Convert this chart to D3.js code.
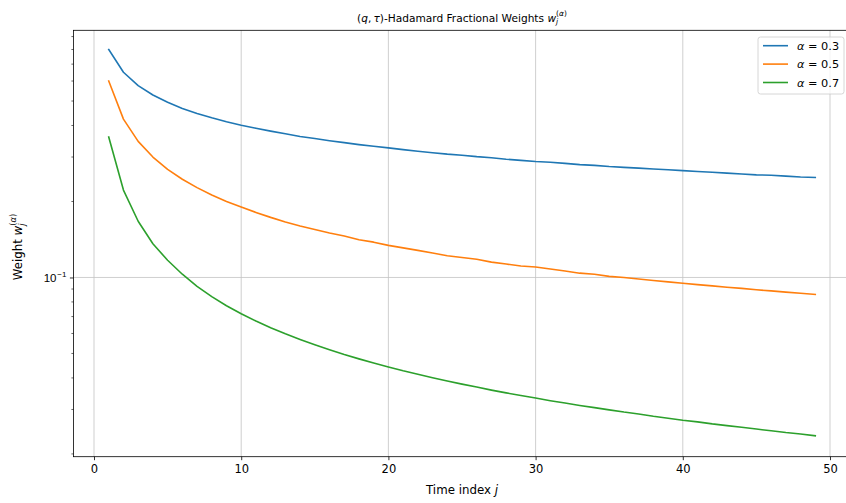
<!DOCTYPE html>
<html>
<head>
<meta charset="utf-8">
<script src="https://cdn.jsdelivr.net/npm/d3@7"></script>
<style>
body { margin: 0; background: #fff; }
svg { display: block; font-family: "DejaVu Sans", sans-serif; }
</style>
</head>
<body>
<svg></svg>
<script>
const w = 846;
const h = 503;
const plot = { left: 73.4, right: 850.6, top: 30.3, bottom: 456.7 };

// time index j = 1..49
const steps = d3.range(1, 50);
const alphas = ['0.3', '0.5', '0.7'];
const colors = ['#1f77b4', '#ff7f0e', '#2ca02c'];

// weights
const weights03 = [0.800, 0.650, 0.575, 0.528, 0.494, 0.467, 0.446, 0.429, 0.414, 0.401,
	0.390, 0.380, 0.371, 0.362, 0.355, 0.348, 0.342, 0.336, 0.331, 0.326,
	0.321, 0.316, 0.312, 0.308, 0.305, 0.301, 0.298, 0.294, 0.291, 0.288,
	0.286, 0.283, 0.280, 0.278, 0.275, 0.273, 0.271, 0.269, 0.267, 0.265,
	0.263, 0.261, 0.259, 0.257, 0.255, 0.254, 0.252, 0.250, 0.249];
const weights05 = [0.600, 0.424, 0.346, 0.300, 0.268, 0.245, 0.227, 0.212, 0.200, 0.190,
	0.181, 0.173, 0.166, 0.160, 0.155, 0.150, 0.146, 0.141, 0.138, 0.134,
	0.131, 0.128, 0.125, 0.122, 0.120, 0.118, 0.115, 0.113, 0.111, 0.110,
	0.108, 0.106, 0.104, 0.103, 0.101, 0.100, 0.0986, 0.0973, 0.0961, 0.0949,
	0.0937, 0.0926, 0.0915, 0.0905, 0.0894, 0.0885, 0.0875, 0.0866, 0.0857];
const weights07 = [0.360, 0.222, 0.167, 0.136, 0.117, 0.103, 0.0922, 0.0840, 0.0773, 0.0718,
	0.0672, 0.0632, 0.0598, 0.0568, 0.0541, 0.0517, 0.0495, 0.0476, 0.0458, 0.0442,
	0.0427, 0.0414, 0.0401, 0.0389, 0.0378, 0.0368, 0.0358, 0.0349, 0.0341, 0.0333,
	0.0325, 0.0318, 0.0311, 0.0305, 0.0299, 0.0293, 0.0288, 0.0282, 0.0277, 0.0272,
	0.0268, 0.0263, 0.0259, 0.0255, 0.0251, 0.0247, 0.0243, 0.0240, 0.0236];

const xTicks = [0, 10, 20, 30, 40, 50];
const yMajor = [0.1];
const yMinor = [0.02, 0.03, 0.04, 0.05, 0.06, 0.07, 0.08, 0.09,
	0.2, 0.3, 0.4, 0.5, 0.6, 0.7, 0.8, 0.9];

const series = [weights03, weights05, weights07];

let canvas = d3.select('svg').attr('width', w).attr('height', h);
canvas.append('rect').attr('width', w).attr('height', h).attr('fill', '#fff');

const xScale = d3.scaleLinear().domain([-1.4, 51.4]).range([plot.left, plot.right]);
const yScale = d3.scaleLog().domain([0.0195, 0.953]).range([plot.bottom, plot.top]);

// grid
const grid = canvas.append('g').attr('stroke', '#b0b0b0').attr('stroke-width', 0.8).attr('opacity', 0.75);
grid.selectAll('.gx').data(xTicks).enter().append('line')
	.attr('x1', (d) => xScale(d)).attr('x2', (d) => xScale(d))
	.attr('y1', plot.top).attr('y2', plot.bottom);
grid.selectAll('.gy').data(yMajor).enter().append('line')
	.attr('x1', plot.left).attr('x2', plot.right)
	.attr('y1', (d) => yScale(d)).attr('y2', (d) => yScale(d));

// lines
const line = d3.line()
	.x((d, i) => xScale(steps[i]))
	.y((d) => yScale(d));
series.forEach((s, i) => {
	canvas.append('path')
		.datum(s)
		.attr('d', line)
		.attr('fill', 'none')
		.attr('stroke', colors[i])
		.attr('stroke-width', 1.6)
		.attr('stroke-linejoin', 'round')
		.attr('stroke-linecap', 'square');
});

// x axis
const xAxis = d3.axisBottom(xScale).tickValues(xTicks).tickSize(3.5).tickPadding(4.2).tickFormat(d3.format('d'));
const gx = canvas.append('g').attr('transform', `translate(0,${plot.bottom})`).call(xAxis);
gx.select('.domain').remove();
gx.selectAll('line').attr('stroke', '#000').attr('stroke-width', 0.8);
gx.selectAll('text').attr('font-size', 11.5).attr('font-family', 'DejaVu Sans').attr('fill', '#000');

// y axis
const yAxis = d3.axisLeft(yScale).tickValues(yMajor).tickSize(3.5).tickPadding(3.5).tickFormat('');
const gy = canvas.append('g').attr('transform', `translate(${plot.left},0)`).call(yAxis);
gy.select('.domain').remove();
gy.selectAll('line').attr('stroke', '#000').attr('stroke-width', 0.8);
gy.selectAll('.tick').append('text')
	.attr('x', -7).attr('dy', '0.38em')
	.attr('text-anchor', 'end')
	.attr('font-size', 11.5).attr('fill', '#000')
	.each(function () {
		const t = d3.select(this);
		t.append('tspan').text('10');
		t.append('tspan').attr('font-size', 8).attr('dx', 0.8).attr('dy', -5).text('\u22121');
	});
canvas.append('g').selectAll('line').data(yMinor).enter().append('line')
	.attr('x1', plot.left - 2).attr('x2', plot.left)
	.attr('y1', (d) => yScale(d)).attr('y2', (d) => yScale(d))
	.attr('stroke', '#000').attr('stroke-width', 0.6);

// frame
canvas.append('rect')
	.attr('x', plot.left).attr('y', plot.top)
	.attr('width', plot.right - plot.left).attr('height', plot.bottom - plot.top)
	.attr('fill', 'none').attr('stroke', '#000').attr('stroke-width', 0.8);

// title
const title = canvas.append('text')
	.attr('x', (plot.left + plot.right) / 2).attr('y', 21.5)
	.attr('text-anchor', 'middle').attr('font-size', 10.6).attr('fill', '#000');
title.append('tspan').text('(');
title.append('tspan').attr('font-style', 'italic').text('q');
title.append('tspan').text(',\u2009');
title.append('tspan').attr('font-style', 'italic').text('\u03c4');
title.append('tspan').text(')-Hadamard Fractional Weights ');
title.append('tspan').attr('font-style', 'italic').text('w');
title.append('tspan').attr('font-style', 'italic').attr('font-size', 7.5).attr('dy', 2.8).text('j');
title.append('tspan').attr('font-size', 7.5).attr('dx', -2.1).attr('dy', -8.4).text('(');
title.append('tspan').attr('font-size', 7.5).attr('font-style', 'italic').text('\u03b1');
title.append('tspan').attr('font-size', 7.5).text(')');

// x label
const xl = canvas.append('text')
	.attr('x', (plot.left + plot.right) / 2).attr('y', 494)
	.attr('text-anchor', 'middle').attr('font-size', 11.8).attr('fill', '#000');
xl.append('tspan').text('Time index ');
xl.append('tspan').attr('font-style', 'italic').text('j');

// y label
const yl = canvas.append('text')
	.attr('transform', `translate(22,247) rotate(-90)`)
	.attr('text-anchor', 'middle').attr('font-size', 11.8).attr('fill', '#000');
yl.append('tspan').text('Weight ');
yl.append('tspan').attr('font-style', 'italic').text('w');
yl.append('tspan').attr('font-style', 'italic').attr('font-size', 8.3).attr('dy', 3).text('j');
yl.append('tspan').attr('font-size', 8.3).attr('dx', -2.3).attr('dy', -9).text('(');
yl.append('tspan').attr('font-size', 8.3).attr('font-style', 'italic').text('\u03b1');
yl.append('tspan').attr('font-size', 8.3).text(')');

// legend
const legend = canvas.append('g');
legend.append('rect')
	.attr('x', 758).attr('y', 37).attr('width', 86).attr('height', 57).attr('rx', 2.5)
	.attr('fill', '#fff').attr('fill-opacity', 0.8)
	.attr('stroke', '#cccccc').attr('stroke-width', 0.8);
alphas.forEach((a, i) => {
	const yy = 45.7 + i * 18.4;
	legend.append('line')
		.attr('x1', 763).attr('x2', 788).attr('y1', yy).attr('y2', yy)
		.attr('stroke', colors[i]).attr('stroke-width', 1.6);
	const t = legend.append('text')
		.attr('x', 797).attr('y', yy + 4.2)
		.attr('font-size', 11.3).attr('fill', '#000');
	t.append('tspan').attr('font-style', 'italic').text('\u03b1');
	t.append('tspan').text(' = ' + a);
});
</script>
</body>
</html>
